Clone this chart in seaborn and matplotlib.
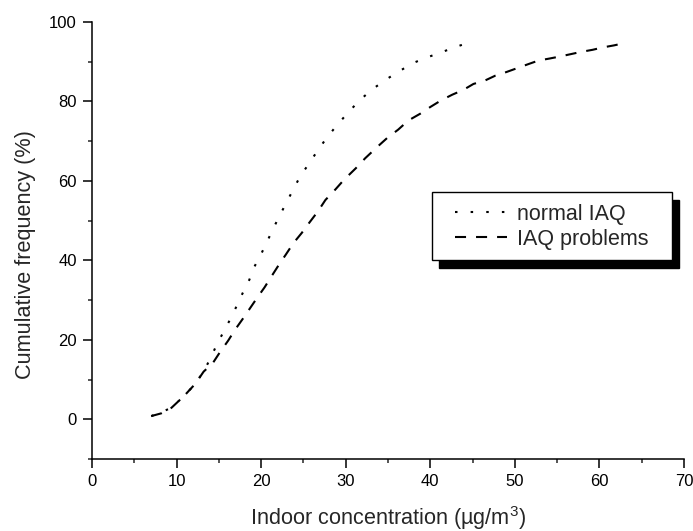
import numpy as np
import pandas as pd
import matplotlib
matplotlib.use('Agg')
import matplotlib.pyplot as plt
from matplotlib.patches import Rectangle
from matplotlib.ticker import MultipleLocator
import seaborn as sns

# valores
normal_x = [7.0, 8.2, 9.4, 10.9, 12.2, 13.3, 14.1, 14.8, 15.6, 16.4, 17.1, 17.8,
            18.6, 19.2, 20.0, 20.7, 21.4, 22.2, 23.0, 24.6, 25.7, 26.7, 27.8, 29.0,
            30.4, 31.8, 33.3, 34.9, 36.4, 38.0, 39.5, 41.1, 42.6, 44.5]
normal_y = [0.8, 1.8, 2.9, 5.9, 8.9, 12.4, 15.8, 19.0, 22.2, 25.4, 28.5, 31.7,
            35.1, 38.4, 41.6, 44.7, 47.9, 51.3, 54.6, 61.1, 64.5, 67.7, 71.0, 74.1,
            77.5, 80.6, 83.3, 85.7, 87.7, 89.7, 91.0, 92.2, 93.4, 94.8]

problems_x = [7.0, 8.2, 9.4, 10.9, 12.2, 13.2, 14.3, 15.1, 16.1, 16.9, 17.8, 18.7,
              19.5, 20.4, 21.2, 22.1, 22.9, 23.8, 24.8, 25.7, 26.7, 27.6, 28.8, 29.8,
              31.2, 32.3, 33.7, 34.9, 36.2, 37.4, 38.8, 40.0, 41.3, 42.6, 43.9, 45.1,
              46.5, 47.7, 49.0, 50.3, 51.6, 52.8, 54.1, 55.3, 56.6, 57.9, 59.2, 60.4,
              61.7, 63.0]
problems_y = [0.8, 1.5, 2.9, 5.9, 8.9, 12.0, 14.2, 16.8, 19.8, 22.5, 25.2, 28.0,
              30.5, 33.2, 35.9, 38.9, 41.4, 44.3, 46.9, 49.5, 52.3, 55.2, 57.9, 60.3,
              63.2, 65.7, 68.5, 70.8, 72.9, 75.2, 76.9, 78.6, 80.3, 81.7, 82.9, 84.4,
              85.3, 86.5, 87.4, 88.4, 89.4, 90.3, 90.8, 91.3, 91.9, 92.5, 93.0, 93.6,
              94.1, 94.7]

labels = ['normal IAQ', 'IAQ problems']

sns.set_style('ticks')
plt.rcParams['font.family'] = ['Liberation Sans', 'DejaVu Sans']
plt.rcParams['mathtext.default'] = 'regular'

fig = plt.figure(figsize=(6.93, 5.31), dpi=100)
ax = fig.add_axes([0.1328, 0.1356, 0.8542, 0.823])

sns.lineplot(x=normal_x, y=normal_y, sort=False, estimator=None, color='black',
             linewidth=1.5, linestyle=(0, (1.2, 6.3)), label=labels[0], ax=ax)
sns.lineplot(x=problems_x, y=problems_y, sort=False, estimator=None, color='black',
             linewidth=1.5, linestyle=(0, (5.3, 4.8)), label=labels[1], ax=ax)

ax.set_xlim(0, 70)
ax.set_ylim(-10, 100)
ax.xaxis.set_major_locator(MultipleLocator(10))
ax.xaxis.set_minor_locator(MultipleLocator(5))
ax.set_yticks([0, 20, 40, 60, 80, 100])
ax.set_yticks([-10, 10, 30, 50, 70, 90], minor=True)
ax.tick_params(which='major', length=6.5, width=1.1, labelsize=12, pad=4.5, colors='black')
ax.tick_params(which='minor', length=3.2, width=1.1)
for s in ['top', 'right']:
    ax.spines[s].set_visible(False)
for s in ['left', 'bottom']:
    ax.spines[s].set_linewidth(1.1)
    ax.spines[s].set_color('black')

ax.set_xlabel('Indoor concentration (µg/m$^3$)', fontsize=15.6, labelpad=10.5)
ax.set_ylabel('Cumulative frequency (%)', fontsize=15.6)
ax.yaxis.set_label_coords(-0.095, 0.467)

# caja de la leyenda con sombra
bx, by, bw, bh = 0.574, 0.455, 0.405, 0.156
ax.add_patch(Rectangle((bx + 0.0125, by - 0.018), bw, bh, transform=ax.transAxes,
                       facecolor='black', edgecolor='black', zorder=6, clip_on=False))
ax.add_patch(Rectangle((bx, by), bw, bh, transform=ax.transAxes,
                       facecolor='white', edgecolor='black', linewidth=1.0, zorder=7,
                       clip_on=False))
leg = ax.legend(loc='center left', bbox_to_anchor=(0.613, 0.531), frameon=False,
                fontsize=15.5, handlelength=2.42, handletextpad=0.47, labelspacing=0.18,
                borderpad=0, borderaxespad=0)
leg.set_zorder(8)

fig.savefig('out.png', dpi=100)
